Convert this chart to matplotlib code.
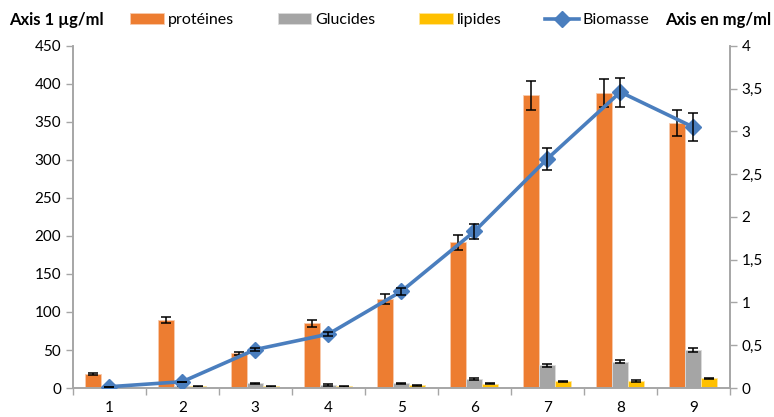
import numpy as np
import matplotlib
matplotlib.use("Agg")
import matplotlib.pyplot as plt

plt.rcParams['font.family'] = ['Lato', 'DejaVu Sans']

# Sampling points and measured values
points = np.arange(1, 10)
proteines = [18.5, 89.5, 45.5, 85, 117, 191.5, 385, 388, 348]
proteines_err = [1, 4.5, 2.5, 4.5, 6, 10, 19, 19, 17]
glucides = [0, 3, 6, 4, 6, 11.5, 30, 34.5, 50]
glucides_err = [np.nan, 0.5, 0.8, 0.8, 0.8, 1.2, 2, 2, 3]
lipides = [0, 2, 2, 2, 3.5, 5.5, 8.8, 9.2, 12.8]
lipides_err = [np.nan, 0.5, 0.5, 0.5, 0.5, 0.8, 0.8, 0.8, 1]
biomasse = [0.015, 0.074, 0.45, 0.63, 1.13, 1.83, 2.68, 3.46, 3.05]
biomasse_err = [0, 0, 0.02, 0.02, 0.04, 0.09, 0.13, 0.17, 0.16]

c_prot = '#ED7D31'
c_gluc = '#A5A5A5'
c_lip = '#FFC000'
c_bio = '#4A7EBE'
grid_c = '#A6A6A6'

fig = plt.figure(figsize=(7.74, 4.17), dpi=100)
ax = fig.add_axes([0.094, 0.0695, 0.849, 0.8205])
ax2 = ax.twinx()

w = 0.22
ekw = dict(ecolor='black', capsize=3.5, elinewidth=1.1, capthick=1.1)
b1 = ax.bar(points - w, proteines, w, yerr=proteines_err, color=c_prot,
            edgecolor='#F8CBAD', linewidth=0.6, error_kw=ekw, label='protéines')
b2 = ax.bar(points, glucides, w, yerr=glucides_err, color=c_gluc,
            edgecolor='#DBDBDB', linewidth=0.6, error_kw=ekw, label='Glucides')
b3 = ax.bar(points + w, lipides, w, yerr=lipides_err, color=c_lip,
            edgecolor='#FFE699', linewidth=0.6, error_kw=ekw, label='lipides')

ln, = ax2.plot(points, biomasse, color=c_bio, lw=2.6, marker='D', ms=8,
               label='Biomasse', zorder=3)
ax2.errorbar(points, biomasse, yerr=biomasse_err, fmt='none', zorder=4, **ekw)

ax.set_xlim(0.5, 9.5)
ax.set_ylim(0, 450)
ax.set_yticks(np.arange(0, 451, 50))
ax2.set_ylim(0, 4)
ax2.set_yticks(np.arange(0, 4.01, 0.5))
ax2.set_yticklabels(['0', '0,5', '1', '1,5', '2', '2,5', '3', '3,5', '4'])

# category labels at centres, tick marks between categories
ax.set_xticks(points)
ax.set_xticklabels([str(p) for p in points])
ax.set_xticks(np.arange(0.5, 9.6, 1), minor=True)
ax.tick_params(axis='x', which='major', length=0, labelsize=11, pad=9)
ax.tick_params(axis='x', which='minor', length=5, color=grid_c, width=1)
ax.tick_params(axis='y', length=5, color=grid_c, labelsize=11, width=1)
ax2.tick_params(axis='y', length=5, color=grid_c, labelsize=11, width=1)

for a in (ax, ax2):
    a.spines['top'].set_visible(False)
    for s in ('left', 'right', 'bottom'):
        a.spines[s].set_color(grid_c)
        a.spines[s].set_linewidth(1.2)

fig.text(0.012, 0.952, 'Axis 1 µg/ml', fontsize=12, fontweight='bold', va='center')
fig.text(0.997, 0.952, 'Axis en mg/ml', fontsize=12, fontweight='bold',
         va='center', ha='right')

fig.legend([b1, b2, b3, ln], ['protéines', 'Glucides', 'lipides', 'Biomasse'],
           loc='center left', bbox_to_anchor=(0.168, 0.952), ncol=4, frameon=False,
           fontsize=11.5, handlelength=2.1, handleheight=0.7, handletextpad=0.25,
           columnspacing=2.75, borderpad=0, borderaxespad=0)

fig.savefig('out.png', dpi=100)
